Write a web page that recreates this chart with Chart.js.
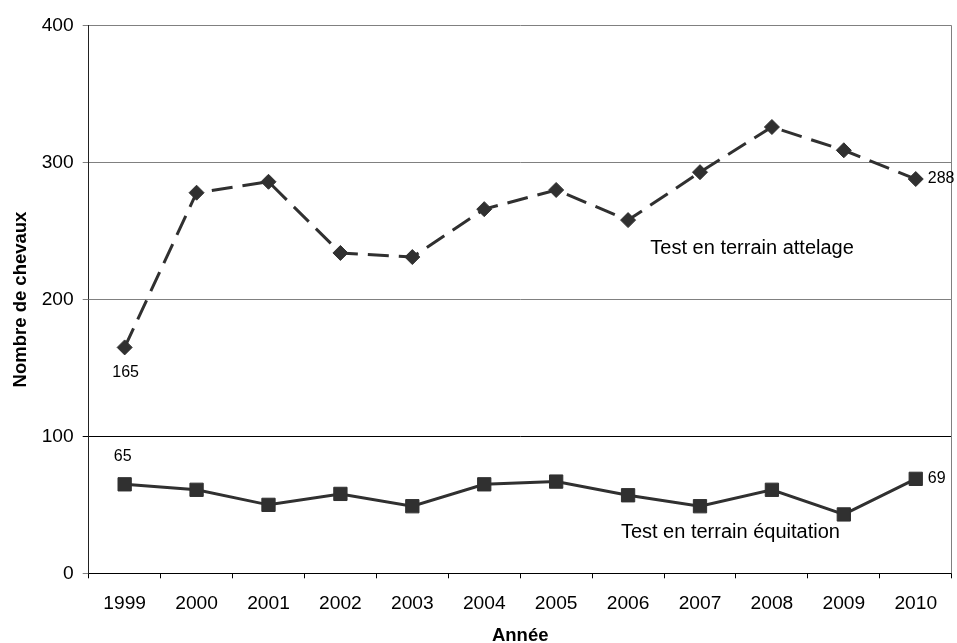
<!DOCTYPE html>
<html><head><meta charset="utf-8">
<script src="https://cdn.jsdelivr.net/npm/chart.js@4/dist/chart.umd.min.js"></script>
<style>html,body{margin:0;padding:0;background:#fff}#wrap{width:957px;height:643px}</style>
</head><body><div id="wrap"><canvas id="c" width="957" height="643"></canvas></div>
<script>
const years = ['1999','2000','2001','2002','2003','2004','2005','2006','2007','2008','2009','2010'];
const attelage = [165,278,286,234,231,266,280,258,293,326,309,288];
const equitation = [65,61,50,58,49,65,67,57,49,61,43,69];
const yTicks = [0,100,200,300,400];
const seriesNames = ['Test en terrain attelage','Test en terrain équitation'];
const xTitle = 'Année';
const yTitle = 'Nombre de chevaux';

const FONT = "'Liberation Sans', Arial, sans-serif";
const INK = '#303030';

const extras = {
  id: 'extras',
  beforeDatasetsDraw(chart) {
    const {ctx, chartArea: a} = chart;
    ctx.save();
    ctx.strokeStyle = '#808080';
    ctx.lineWidth = 1;
    ctx.beginPath();
    ctx.moveTo(Math.round(a.right) - 0.5, a.top);
    ctx.lineTo(Math.round(a.right) - 0.5, a.bottom);
    ctx.stroke();
    ctx.restore();
  },
  afterDatasetsDraw(chart) {
    const {ctx} = chart;
    const xs = chart.scales.x, ys = chart.scales.y;
    const m0 = chart.getDatasetMeta(0).data;
    const m1 = chart.getDatasetMeta(1).data;
    const last = years.length - 1;
    ctx.save();
    ctx.fillStyle = '#000';
    ctx.textBaseline = 'middle';
    ctx.font = '16px ' + FONT;
    ctx.textAlign = 'center';
    ctx.fillText(String(attelage[0]), m0[0].x + 1, m0[0].y + 25);
    ctx.fillText(String(equitation[0]), m1[0].x - 2, m1[0].y - 28);
    ctx.textAlign = 'left';
    ctx.fillText(String(attelage[last]), m0[last].x + 12, m0[last].y);
    ctx.fillText(String(equitation[last]), m1[last].x + 12, m1[last].y);
    ctx.font = '20px ' + FONT;
    ctx.fillText(seriesNames[0], xs.getPixelForValue(7.31), ys.getPixelForValue(237));
    ctx.fillText(seriesNames[1], xs.getPixelForValue(6.90), ys.getPixelForValue(30));
    ctx.restore();
  }
};

new Chart(document.getElementById('c'), {
  type: 'line',
  data: {
    labels: years,
    datasets: [
      {
        label: seriesNames[0],
        data: attelage,
        borderColor: INK,
        backgroundColor: INK,
        borderWidth: 3,
        borderDash: [21, 10],
        borderCapStyle: 'butt',
        tension: 0,
        pointStyle: 'rectRot',
        pointRadius: 7.5,
        pointBorderWidth: 1,
        pointBackgroundColor: INK,
        pointBorderColor: INK
      },
      {
        label: seriesNames[1],
        data: equitation,
        borderColor: INK,
        backgroundColor: INK,
        borderWidth: 3,
        tension: 0,
        pointStyle: 'rect',
        pointRadius: 9.4,
        pointBorderWidth: 1,
        pointBackgroundColor: INK,
        pointBorderColor: INK
      }
    ]
  },
  options: {
    responsive: false,
    animation: false,
    devicePixelRatio: 1,
    layout: { autoPadding: false, padding: { top: 25.7, right: 5.3, left: 0, bottom: -2 } },
    plugins: { legend: { display: false }, tooltip: { enabled: false } },
    scales: {
      x: {
        type: 'category',
        offset: true,
        afterFit(s) { s.height = 71.7; s.paddingLeft = 0; s.paddingRight = 0; },
        grid: { offset: true, drawOnChartArea: false, drawTicks: true, tickLength: 5, color: '#000', lineWidth: 1 },
        border: { display: true, color: '#000', width: 1 },
        ticks: { color: '#000', font: { family: FONT, size: 19.2 }, padding: 14, maxRotation: 0, autoSkip: false },
        title: { display: true, text: xTitle, color: '#000', font: { family: FONT, size: 18.5, weight: 'bold', lineHeight: 1 }, padding: { top: 0, bottom: 0 } }
      },
      y: {
        min: yTicks[0],
        max: yTicks[yTicks.length - 1],
        afterFit(s) { s.width = 88.7; s.paddingTop = 0; s.paddingBottom = 0; },
        afterBuildTicks(s) { s.ticks = yTicks.map(v => ({ value: v })); },
        grid: {
          color: (c) => (c.tick && c.tick.value === 100) ? '#000' : '#808080',
          lineWidth: 1,
          tickLength: 6
        },
        border: { display: true, color: '#222', width: 1 },
        ticks: { color: '#000', font: { family: FONT, size: 19.2 }, padding: 9 },
        title: { display: true, text: yTitle, color: '#000', font: { family: FONT, size: 18.5, weight: 'bold', lineHeight: 1 }, padding: { top: 11.5, bottom: 0 } }
      }
    }
  },
  plugins: [extras]
});
</script></body></html>
